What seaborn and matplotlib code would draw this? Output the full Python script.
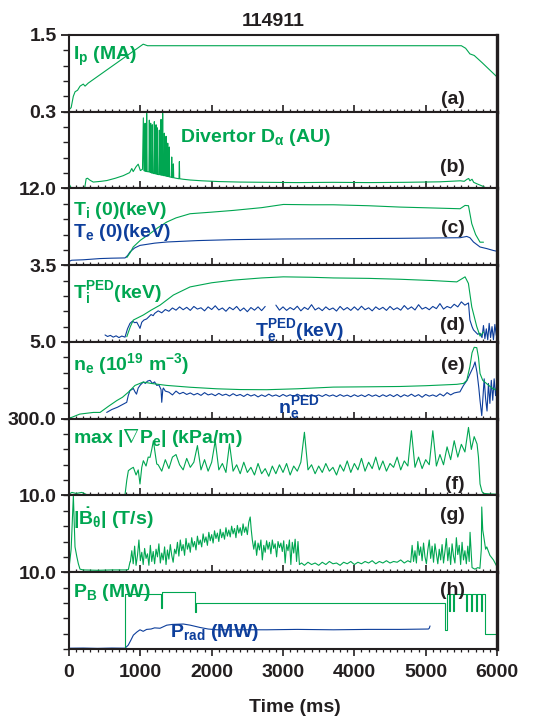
import numpy as np
import matplotlib
matplotlib.use('Agg')
import matplotlib.pyplot as plt
import seaborn as sns
from matplotlib.ticker import MultipleLocator, FixedLocator, StrMethodFormatter

# ---------------- data ----------------
shot = '114911'
xlabel = 'Time (ms)'

# (a) plasma current, MA
ip_t = [0, 30, 60, 85, 120, 155, 200, 225, 270, 1040, 1100, 5500, 5560, 5620, 5680, 5790, 6000]
ip_v = [0.04, 0.08, 0.30, 0.39, 0.42, 0.50, 0.54, 0.50, 0.56, 1.32, 1.29, 1.29, 1.24, 1.13, 1.10, 0.96, 0.68]

# (b) divertor D-alpha, AU
da_t = [0, 30, 70, 220, 240, 260, 290, 340, 450, 530, 650, 760, 850, 880, 900, 940, 970, 1000, 1030,
        1042, 1050, 1060, 1066, 1072, 1083, 1089, 1095, 1120, 1126, 1132, 1140, 1145, 1150, 1162, 1168,
        1174, 1190, 1196, 1202, 1214, 1220, 1226, 1233, 1238, 1243, 1260, 1266, 1272, 1285, 1290, 1295,
        1307, 1313, 1319, 1331, 1336, 1341, 1355, 1360, 1365, 1379, 1384, 1389, 1401, 1406, 1411, 1435,
        1440, 1445, 1458, 1463, 1468, 1500, 1542, 1547, 1552, 1600, 1700, 1860, 2100, 2400, 2773, 3200,
        3700, 4200, 4700, 5200, 5486, 5540, 5580, 5603, 5620, 5650, 5673, 5720, 5790, 5860, 6000]
da_v = [0.018, 0.003, 0.002, 0.002, 0.038, 0.040, 0.033, 0.025, 0.028, 0.031, 0.040, 0.050, 0.062, 0.078,
        0.066, 0.085, 0.095, 0.070, 0.075,
        0.276, 0.070, 0.068, 0.255, 0.068, 0.066, 0.294, 0.066, 0.065, 0.267, 0.064, 0.063, 0.255, 0.062,
        0.060, 0.249, 0.060, 0.058, 0.261, 0.058, 0.057, 0.249, 0.056, 0.056, 0.237, 0.055, 0.054, 0.228,
        0.054, 0.053, 0.270, 0.052, 0.052, 0.294, 0.051, 0.050, 0.216, 0.050, 0.049, 0.204, 0.048, 0.047,
        0.177, 0.047, 0.046, 0.162, 0.045, 0.044, 0.123, 0.043, 0.042, 0.096, 0.042, 0.040, 0.038, 0.105,
        0.038, 0.036, 0.033, 0.030, 0.027, 0.025, 0.024, 0.023, 0.024, 0.023, 0.024, 0.026, 0.030, 0.028,
        0.036, 0.039, 0.030, 0.036, 0.024, 0.018, 0.010, 0.000, 0.000]

# (c) central temperatures, keV
ti_t = [810, 860, 900, 1000, 1136, 1250, 1370, 1500, 1697, 2000, 2304, 2700, 3005, 3400, 3706, 4200,
        4641, 5100, 5482, 5552, 5600, 5646, 5700, 5762, 5810]
ti_v = [1.2, 2.0, 2.85, 3.9, 4.94, 5.9, 6.75, 7.4, 8.05, 8.3, 8.57, 9.0, 9.5, 9.45, 9.45, 9.3,
        9.09, 8.95, 8.83, 9.35, 9.3, 6.5, 4.8, 3.6, 3.6]
te_t = [0, 38, 200, 435, 600, 785, 820, 855, 920, 995, 1200, 1370, 1800, 2304, 3000, 3706, 4600,
        5482, 5576, 5620, 5670, 5762, 5856, 5950, 6000]
te_v = [0.6, 0.78, 0.85, 1.04, 1.1, 1.14, 1.5, 2.08, 2.7, 3.1, 3.45, 3.63, 3.85, 4.0, 4.1, 4.15, 4.2,
        4.3, 4.5, 4.3, 3.63, 2.85, 2.6, 2.3, 2.18]

# (d) pedestal temperatures, keV
tiped_t = [810, 860, 902, 1042, 1150, 1276, 1463, 1697, 2000, 2304, 2700, 3005, 3400, 3706, 4200,
           4641, 5100, 5436, 5552, 5599, 5646, 5716, 5762, 5810]
tiped_v = [0.24, 0.7, 1.0, 1.23, 1.45, 1.68, 2.14, 2.51, 2.7, 2.82, 2.92, 2.97, 2.95, 2.92, 2.9,
           2.86, 2.8, 2.74, 2.97, 2.67, 1.6, 0.7, 0.27, 0.45]
teped1_t = [505, 540, 580, 620, 660, 700, 740, 785, 820, 855, 890, 920, 950, 975, 995, 1020, 1050,
            1088, 1120, 1150, 1180, 1200, 1250, 1300, 1350, 1400, 1450, 1500, 1550, 1600, 1650, 1700,
            1750, 1800, 1850, 1900, 1950, 2000, 2050, 2100, 2150, 2200, 2250, 2300, 2350, 2400, 2450,
            2500, 2550, 2600, 2650, 2700, 2750]
teped1_v = [0.32, 0.25, 0.30, 0.22, 0.28, 0.20, 0.27, 0.22, 0.60, 0.85, 0.95, 0.88, 0.90, 0.75, 0.62,
            0.90, 1.00, 1.05, 1.15, 1.25, 1.20, 1.30, 1.42, 1.33, 1.48, 1.40, 1.55, 1.45, 1.60, 1.47,
            1.58, 1.44, 1.62, 1.50, 1.56, 1.42, 1.60, 1.48, 1.65, 1.46, 1.55, 1.40, 1.58, 1.47, 1.62,
            1.42, 1.55, 1.38, 1.57, 1.45, 1.60, 1.43, 1.62]
teped2_t = [2900, 2950, 3000, 3050, 3100, 3150, 3200, 3250, 3300, 3350, 3400, 3450, 3500, 3550, 3600,
            3650, 3700, 3750, 3800, 3850, 3900, 3950, 4000, 4050, 4100, 4150, 4200, 4250, 4300, 4350,
            4400, 4450, 4500, 4550, 4600, 4650, 4700, 4750, 4800, 4850, 4900, 4950, 5000, 5050, 5100,
            5150, 5200, 5250, 5300, 5350, 5400, 5450, 5500, 5550, 5600, 5620, 5650, 5670, 5700, 5730,
            5762, 5790, 5810, 5830, 5850, 5870, 5890, 5910, 5930, 5950, 5970, 5990, 6000]
teped2_v = [1.68, 1.45, 1.60, 1.44, 1.57, 1.47, 1.63, 1.42, 1.58, 1.48, 1.70, 1.46, 1.56, 1.43, 1.60,
            1.47, 1.55, 1.41, 1.62, 1.46, 1.57, 1.44, 1.60, 1.45, 1.63, 1.47, 1.56, 1.42, 1.60, 1.48,
            1.58, 1.44, 1.62, 1.47, 1.56, 1.45, 1.66, 1.49, 1.60, 1.46, 1.70, 1.50, 1.58, 1.47, 1.62,
            1.52, 1.75, 1.50, 1.62, 1.55, 1.72, 1.60, 1.83, 1.68, 1.78, 1.00, 0.70, 0.55, 0.45, 0.35,
            0.40, 0.20, 0.75, 0.15, 0.60, 0.10, 0.85, 0.20, 0.70, 0.10, 0.80, 0.30, 0.50]

# (e) density, 1e19 m^-3
ne_t = [0, 38, 150, 341, 435, 550, 669, 750, 832, 925, 1042, 1150, 1370, 1700, 2071, 2400, 2773,
        3200, 3706, 4200, 4641, 5000, 5436, 5530, 5576, 5620, 5650, 5680, 5716, 5740, 5762, 5800,
        5856, 5930, 6000]
ne_v = [0.05, 0.09, 0.3, 0.41, 0.41, 0.8, 1.18, 1.4, 1.73, 2.17, 2.39, 2.3, 2.17, 2.05, 1.95, 1.9,
        1.89, 1.95, 2.06, 2.08, 2.1, 2.15, 2.24, 2.3, 2.5, 3.4, 4.3, 4.65, 4.63, 4.0, 2.94, 2.5,
        2.28, 2.0, 1.84]
neped_t = [528, 600, 680, 760, 809, 830, 855, 880, 902, 925, 946, 970, 1000, 1042, 1070, 1100, 1136,
           1170, 1200, 1230, 1260, 1290, 1300, 1315, 1323, 1350, 1400, 1450, 1500, 1550, 1600, 1650,
           1700, 1750, 1800, 1850, 1900, 1950, 2000, 2050, 2100, 2150, 2200, 2250, 2300, 2350, 2400,
           2450, 2500, 2550, 2600, 2650, 2700, 2750, 2800, 2850, 2900, 2950, 3000, 3050, 3100, 3150,
           3200, 3250, 3300, 3350, 3400, 3450, 3500, 3550, 3600, 3650, 3700, 3750, 3800, 3850, 3900,
           3950, 4000, 4050, 4100, 4150, 4200, 4250, 4300, 4350, 4400, 4450, 4500, 4550, 4600, 4650,
           4700, 4750, 4800, 4850, 4900, 4950, 5000, 5050, 5100, 5150, 5200, 5250, 5300, 5350, 5400,
           5450, 5480, 5530, 5580, 5623, 5670, 5692, 5720, 5745, 5762, 5786, 5800, 5820, 5840, 5860,
           5880, 5900, 5920, 5940, 5960, 5980, 6000]
neped_v = [0.41, 0.6, 0.75, 0.95, 1.07, 1.5, 1.84, 1.9, 1.97, 1.75, 1.6, 2.0, 2.2, 2.39, 2.3, 2.45,
           2.5, 2.3, 2.4, 2.17, 2.2, 1.9, 1.07, 1.9, 2.0, 1.8, 1.73, 1.55, 1.80, 1.62, 1.72, 1.58,
           1.68, 1.55, 1.65, 1.52, 1.70, 1.55, 1.62, 1.50, 1.65, 1.52, 1.60, 1.48, 1.63, 1.50, 1.58,
           1.45, 1.60, 1.48, 1.57, 1.42, 1.55, 1.45, 1.60, 1.47, 1.55, 1.44, 1.58, 1.46, 1.56, 1.45,
           1.60, 1.48, 1.55, 1.44, 1.57, 1.46, 1.55, 1.45, 1.58, 1.47, 1.55, 1.44, 1.57, 1.46, 1.54,
           1.43, 1.56, 1.45, 1.55, 1.44, 1.58, 1.46, 1.55, 1.43, 1.56, 1.45, 1.57, 1.44, 1.58, 1.42,
           1.56, 1.46, 1.60, 1.45, 1.57, 1.40, 1.58, 1.47, 1.55, 1.45, 1.62, 1.48, 1.70, 1.55, 1.68,
           1.73, 1.75, 2.17, 2.5, 2.94, 3.4, 3.7, 3.0, 2.0, 1.18, 0.2, 1.2, 2.6, 1.3, 0.5,
           2.3, 1.0, 2.5, 1.2, 2.6, 1.5, 2.4]

# (f) max |grad Pe|, kPa/m
gp_t = [0, 40, 100, 180, 250, 400, 600, 785, 810, 832, 870, 902, 940, 970, 995, 1020, 1042, 1080,
        1110, 1136, 1160, 1183, 1210, 1230, 1250, 1300, 1350, 1400, 1450, 1500, 1550, 1600, 1650,
        1700, 1750, 1800, 1850, 1900, 1950, 2000, 2050, 2100, 2150, 2200, 2250, 2300, 2350, 2400,
        2450, 2500, 2550, 2600, 2650, 2700, 2750, 2800, 2850, 2900, 2950, 3000, 3050, 3100, 3150,
        3200, 3250, 3300, 3350, 3400, 3450, 3500, 3550, 3600, 3650, 3700, 3750, 3800, 3850, 3900,
        3950, 4000, 4050, 4100, 4150, 4200, 4250, 4300, 4350, 4400, 4450, 4500, 4550, 4600, 4650,
        4700, 4750, 4800, 4850, 4900, 4950, 5000, 5050, 5100, 5150, 5200, 5250, 5300, 5350, 5400,
        5450, 5500, 5550, 5600, 5640, 5680, 5720, 5740, 5762, 5790, 5810, 5900, 6000]
gp_v = [5, 12, 8, 12, 3, 2, 3, 3, 60, 97, 105, 110, 80, 100, 45, 110, 136, 115,
        150, 149, 180, 214, 160, 123, 120, 95, 140, 105, 150, 160, 120, 100, 145,
        110, 130, 195, 100, 140, 95, 130, 214, 100, 125, 90, 202, 95, 120, 85,
        130, 90, 110, 80, 125, 85, 105, 75, 115, 85, 120, 90, 125, 80, 115,
        95, 130, 247, 100, 120, 85, 115, 90, 125, 95, 110, 80, 120, 95, 135,
        90, 125, 100, 145, 95, 130, 105, 150, 100, 135, 95, 125, 110, 150, 100,
        135, 115, 253, 110, 150, 105, 140, 120, 253, 115, 160, 120, 190, 140, 214,
        150, 200, 170, 266, 180, 230, 201, 150, 45, 15, 8, 6, 5]

# (g) |dB_theta/dt|, T/s
bd_t = [0, 30, 61, 75, 84, 110, 131, 154, 200, 400, 600, 800, 832, 855,
        860, 880, 900, 920, 940, 960, 980, 1000, 1020, 1040, 1060, 1080, 1100, 1120, 1140, 1160,
        1180, 1200, 1220, 1240, 1260, 1280, 1300, 1320, 1340, 1360, 1380, 1400, 1420, 1440, 1460,
        1480, 1500, 1520, 1540, 1560, 1580, 1600, 1620, 1640, 1660, 1680, 1700, 1720, 1740, 1760,
        1780, 1800, 1820, 1840, 1860, 1880, 1900, 1920, 1940, 1960, 1980, 2000, 2020, 2040, 2060,
        2080, 2100, 2120, 2140, 2160, 2180, 2200, 2220, 2240, 2260, 2280, 2300, 2320, 2340, 2360,
        2380, 2400, 2420, 2440, 2460, 2480, 2500, 2520, 2540, 2555, 2570, 2590, 2610, 2630, 2650,
        2670, 2690, 2710, 2730, 2750, 2770, 2790, 2810, 2830, 2850, 2870, 2890, 2910, 2930, 2950,
        2970, 2990, 3010, 3030, 3050, 3070, 3090, 3110, 3130, 3150, 3170, 3190, 3210, 3230,
        3260, 3300, 3350, 3400, 3450, 3500, 3550, 3600, 3650, 3700, 3750, 3800, 3850, 3900, 3950,
        4000, 4050, 4100, 4150, 4200, 4250, 4300, 4350, 4400, 4450, 4500, 4550, 4600, 4650, 4700,
        4750, 4790,
        4810, 4830, 4850, 4870, 4890, 4910, 4930, 4950, 4970, 4990, 5010, 5030, 5050, 5070, 5090,
        5110, 5130, 5150, 5170, 5190, 5210, 5230, 5250, 5270, 5290, 5310, 5330, 5350, 5370, 5390,
        5410, 5430, 5450, 5470, 5490, 5510, 5530, 5550, 5570, 5590, 5610, 5622,
        5650, 5690, 5730, 5760, 5780, 5786, 5800, 5815, 5840, 5856, 5900, 5950, 6000]
bd_v = [0.5, 3.0, 10.0, 6.0, 3.3, 2.0, 1.1, 0.4, 0.3, 0.25, 0.3, 0.3, 0.35, 1.35,
        1.35, 2.8, 1.1, 3.4, 0.9, 2.2, 4.2, 1.5, 2.6, 1.0, 3.1, 1.8, 2.4, 0.9, 3.5, 1.4,
        2.7, 1.1, 3.0, 2.0, 3.7, 1.2, 2.5, 1.6, 3.3, 1.0, 2.9, 1.7, 3.6, 2.2, 1.3,
        3.0, 2.4, 3.9, 2.1, 4.2, 2.8, 3.6, 2.2, 4.4, 3.0, 3.8, 2.6, 4.5, 3.3, 4.0,
        2.9, 4.7, 3.6, 4.2, 3.3, 5.0, 3.9, 4.6, 3.5, 5.2, 4.1, 4.9, 3.8, 5.4, 4.4,
        5.1, 4.0, 5.6, 4.5, 5.2, 4.3, 5.8, 4.7, 5.5, 4.6, 6.0, 5.0, 5.7, 4.5, 6.1,
        5.1, 5.8, 4.8, 6.3, 5.2, 5.9, 4.9, 6.5, 7.2, 5.5, 4.2, 3.0, 4.1, 2.2, 3.8,
        2.9, 4.2, 1.6, 3.5, 2.6, 4.1, 3.0, 3.9, 2.4, 4.2, 3.1, 3.7, 2.0, 4.0, 3.2,
        3.8, 2.7, 4.1, 1.2, 3.6, 2.8, 4.2, 1.0, 3.9, 2.5, 4.3, 1.4, 4.0, 1.0,
        1.2, 0.9, 1.3, 1.0, 1.2, 0.9, 1.3, 1.0, 1.4, 1.1, 1.2, 0.9, 1.3, 1.1, 1.4,
        1.0, 1.3, 1.1, 1.4, 1.2, 1.5, 1.1, 1.4, 1.2, 1.5, 1.2, 1.4, 1.3, 1.6, 1.2,
        1.5, 1.3,
        3.5, 1.4, 2.8, 1.2, 4.0, 2.2, 3.3, 1.5, 3.8, 2.0, 1.1, 2.9, 4.2, 1.8, 3.4,
        1.3, 3.7, 2.4, 1.1, 3.0, 1.6, 3.6, 1.2, 2.7, 4.4, 1.5, 3.2, 1.0, 3.7, 2.1,
        1.2, 4.5, 2.3, 3.5, 1.0, 3.9, 1.6, 2.8, 1.1, 3.4, 1.4, 5.2,
        0.6, 0.4, 0.6, 0.5, 3.0, 8.5, 5.5, 4.6, 3.0, 3.3, 2.2, 1.6, 0.7]

# (h) beam power and radiated power, MW
pb_t = [0, 785, 1290, 1310, 1760, 1780, 5270, 5295, 5320, 5335, 5380, 5395, 5570, 5585, 5640,
        5655, 5710, 5725, 5780, 5795, 5832, 6000]
pb_v = [0.0, 7.2, 5.3, 7.45, 4.85, 6.0, 2.5, 7.2, 5.0, 7.2, 5.0, 7.2, 5.0, 7.2, 5.0,
        7.2, 5.0, 7.2, 5.0, 7.2, 2.0, 2.0]
pr_t = [0, 200, 400, 600, 785, 830, 870, 902, 950, 995, 1040, 1088, 1150, 1200, 1276, 1370, 1450,
        1603, 1700, 1837, 1950, 2071, 2400, 2773, 3200, 3706, 4200, 4641, 5038, 5050, 5061]
pr_v = [0.1, 0.12, 0.08, 0.12, 0.1, 0.5, 1.2, 1.8, 2.2, 2.5, 2.3, 2.55, 2.6, 2.75, 2.7, 3.1, 3.2,
        3.25, 3.1, 2.8, 2.6, 2.5, 2.5, 2.5, 2.55, 2.5, 2.55, 2.55, 2.6, 2.7, 3.0]

y_max = [1.5, 0.3, 12.0, 3.5, 5.0, 300.0, 10.0, 10.0]
y_top_labels = ['1.5', '0.3', '12.0', '3.5', '5.0', '300.0', '10.0', '10.0']
panel_tags = ['(a)', '(b)', '(c)', '(d)', '(e)', '(f)', '(g)', '(h)']

# ---------------- style ----------------
GREEN = '#00A651'
BLUE = '#0D3E9B'
INK = '#231F20'

sns.set_style('ticks')
plt.rcParams['font.family'] = ['Liberation Sans', 'DejaVu Sans']
plt.rcParams['font.weight'] = 'bold'
plt.rcParams['mathtext.fontset'] = 'custom'
plt.rcParams['mathtext.rm'] = 'Liberation Sans:bold'
plt.rcParams['mathtext.it'] = 'Liberation Sans:bold'
plt.rcParams['mathtext.bf'] = 'Liberation Sans:bold'
plt.rcParams['mathtext.sf'] = 'Liberation Sans:bold'
plt.rcParams['mathtext.default'] = 'rm'

FS = 14
LW = 0.8

fig, axes = plt.subplots(8, 1, sharex=True, figsize=(5.4, 7.21), dpi=100,
                         gridspec_kw=dict(hspace=0))
fig.subplots_adjust(left=0.1278, right=0.9204, top=0.9515, bottom=0.0999, hspace=0)


def line(ax, t, v, color, **kw):
    sns.lineplot(x=t, y=v, ax=ax, color=color, lw=LW, estimator=None, sort=False,
                 legend=False, **kw)


line(axes[0], ip_t, ip_v, GREEN)
line(axes[1], da_t, da_v, GREEN)
line(axes[2], te_t, te_v, BLUE)
line(axes[2], ti_t, ti_v, GREEN)
line(axes[3], teped1_t, teped1_v, BLUE)
line(axes[3], teped2_t, teped2_v, BLUE)
line(axes[3], tiped_t, tiped_v, GREEN)
line(axes[4], neped_t, neped_v, BLUE)
line(axes[4], ne_t, ne_v, GREEN)
line(axes[5], gp_t, gp_v, GREEN)
line(axes[6], bd_t, bd_v, GREEN)
line(axes[7], pr_t, pr_v, BLUE)
line(axes[7], pb_t, pb_v, GREEN, drawstyle='steps-post')

for i, ax in enumerate(axes):
    ax.set_xlim(0, 6000)
    ax.set_ylim(0, y_max[i])
    ax.set_xlabel('')
    ax.set_ylabel('')
    ax.set_yticks([y_max[i]])
    ax.set_yticklabels([y_top_labels[i]])
    ax.yaxis.set_minor_locator(FixedLocator([y_max[i] * k / 5 for k in range(5)]))
    ax.xaxis.set_major_locator(MultipleLocator(1000))
    ax.xaxis.set_minor_locator(MultipleLocator(100))
    ax.xaxis.set_major_formatter(StrMethodFormatter('{x:.0f}'))
    ax.tick_params(axis='y', which='major', direction='out', length=6, width=1.3,
                   labelsize=FS, pad=3, colors=INK)
    ax.tick_params(axis='y', which='minor', direction='out', length=4, width=1.0, colors=INK)
    xdir = 'out' if i == len(axes) - 1 else 'in'
    ax.tick_params(axis='x', which='major', direction=xdir, length=5, width=1.2, top=False,
                   colors=INK, labelsize=FS, pad=6)
    ax.tick_params(axis='x', which='minor', direction=xdir, length=2.5, width=0.9, top=False,
                   colors=INK)
    for s in ax.spines.values():
        s.set_linewidth(1.5)
        s.set_color(INK)
        s.set_visible(True)
    ax.spines['right'].set_linewidth(2.4)
    ax.text(0.925, [0.10, 0.21, 0.42, 0.16, 0.63, 0.09, 0.68, 0.70][i], panel_tags[i],
            transform=ax.transAxes, ha='right', va='baseline', fontsize=FS, color=INK)


def lab(ax, x, y, s, color):
    ax.text(x, y, s, transform=ax.transAxes, ha='left', va='baseline', fontsize=FS, color=color)


lab(axes[0], 0.01, 0.675, r'I$_p$ (MA)', GREEN)
lab(axes[1], 0.259, 0.61, r'Divertor D$_\alpha$ (AU)', GREEN)
lab(axes[2], 0.01, 0.65, r'T$_i$ (0)(keV)', GREEN)
lab(axes[2], 0.01, 0.37, r'T$_e$ (0)(keV)', BLUE)
lab(axes[3], 0.01, 0.57, r'T$_i^{PED}$(keV)', GREEN)
lab(axes[3], 0.435, 0.07, r'T$_e^{PED}$(keV)', BLUE)
lab(axes[4], 0.01, 0.63, r'n$_e$ (10$^{19}$ m$^{-3}$)', GREEN)
lab(axes[4], 0.488, 0.07, r'n$_e^{PED}$', BLUE)
lab(axes[5], 0.01, 0.69, r'max |$\nabla$P$_e$| (kPa/m)', GREEN)
lab(axes[6], 0.01, 0.61, r'|$\dot{B}_\theta$| (T/s)', GREEN)
lab(axes[7], 0.01, 0.68, r'P$_B$ (MW)', GREEN)
lab(axes[7], 0.236, 0.16, r'P$_{rad}$ (MW)', BLUE)

fig.text(273 / 540, 1 - 21 / 721, shot, ha='center', va='center', fontsize=FS, color=INK)
fig.text(295 / 540, 1 - 708 / 721, xlabel, ha='center', va='center', fontsize=FS, color=INK)

fig.savefig('out.png', dpi=100)
